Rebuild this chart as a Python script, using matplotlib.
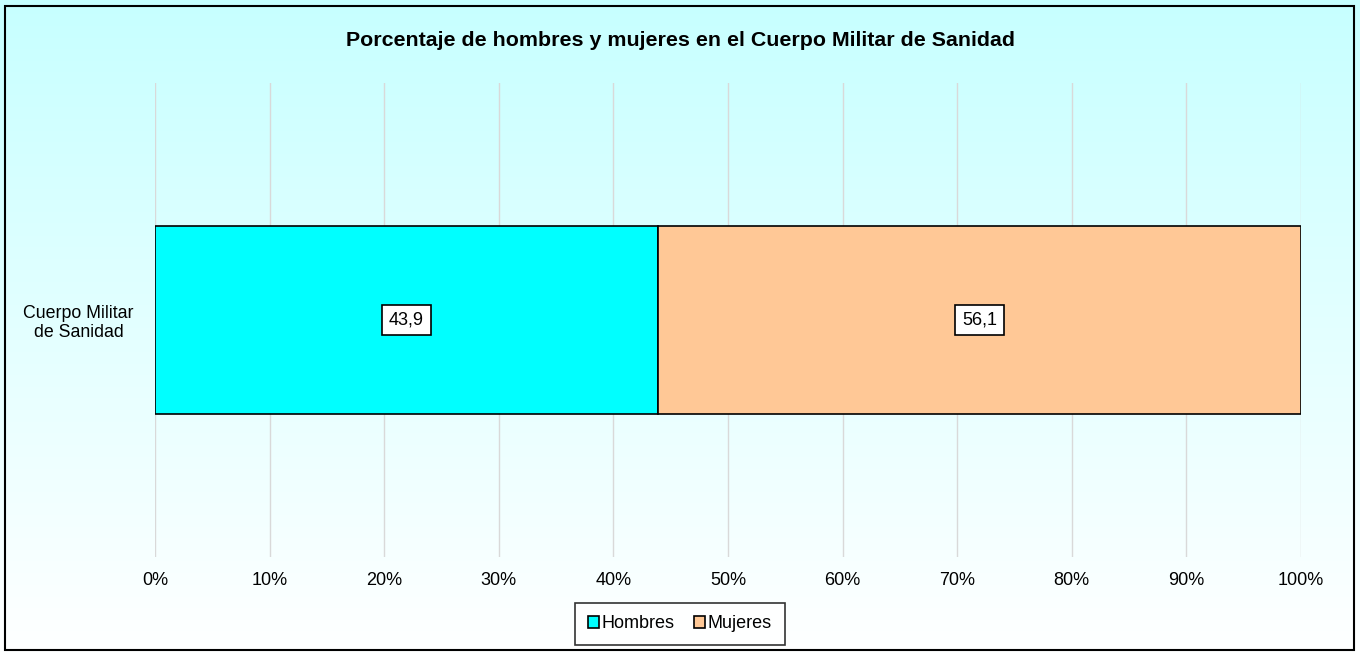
import matplotlib.pyplot as plt
import numpy as np
from matplotlib.patches import Rectangle

plt.rcParams['font.family'] = ['Liberation Sans', 'DejaVu Sans']

categories = ['Cuerpo Militar\nde Sanidad']
series_names = ['Hombres', 'Mujeres']
hombres = [43.9]
mujeres = [56.1]
colors = ['#00FFFF', '#FFC896']
xticks = [0, 10, 20, 30, 40, 50, 60, 70, 80, 90, 100]


def main():
    fig = plt.figure(figsize=(13.6, 6.56), dpi=100)

    # gradient background
    bg = fig.add_axes([0, 0, 1, 1], zorder=-10)
    grad = np.linspace(0, 1, 256).reshape(-1, 1)
    top = np.array([0.78, 1.0, 1.0])
    bottom = np.array([1.0, 1.0, 1.0])
    img = top + (bottom - top) * grad[:, :, None]
    bg.imshow(img, aspect='auto', extent=[0, 1, 0, 1], origin='upper')
    bg.set_xlim(0, 1)
    bg.set_ylim(0, 1)
    bg.axis('off')
    fig.patches.append(Rectangle((5 / 1360, 6 / 656), 1349 / 1360, 644 / 656,
                                 transform=fig.transFigure, fill=False,
                                 edgecolor='black', linewidth=1.5, zorder=10))

    ax = fig.add_axes([155 / 1360, 1 - 557 / 656, 1146 / 1360, 474 / 656])
    ax.set_facecolor('none')
    y = np.arange(len(categories))
    left = np.zeros(len(categories))
    for name, vals, c in zip(series_names, [hombres, mujeres], colors):
        bars = ax.barh(y, vals, left=left, height=0.397, color=c,
                       edgecolor='black', linewidth=1.2, label=name, zorder=3)
        for b, v in zip(bars, vals):
            ax.text(b.get_x() + b.get_width() / 2, b.get_y() + b.get_height() / 2,
                    f'{v:.1f}'.replace('.', ','), ha='center', va='center',
                    fontsize=13, zorder=5,
                    bbox=dict(boxstyle='square,pad=0.38', facecolor='white',
                              edgecolor='black', linewidth=1.2))
        left = left + np.array(vals)

    ax.set_xlim(0, 100)
    ax.set_ylim(-0.5, 0.5)
    ax.set_xticks(xticks)
    ax.set_xticklabels([f'{t}%' for t in xticks], fontsize=13)
    ax.set_yticks(y)
    ax.set_yticklabels(categories, fontsize=12.8, ha='center', linespacing=1.15)
    ax.tick_params(axis='y', length=0, pad=55)
    ax.tick_params(axis='x', length=0, pad=11)
    ax.grid(axis='x', color='#d9d9d9', linewidth=1, zorder=0)
    ax.set_axisbelow(True)
    for s in ax.spines.values():
        s.set_visible(False)

    fig.text(0.5, 1 - 40 / 656, 'Porcentaje de hombres y mujeres en el Cuerpo Militar de Sanidad',
             ha='center', va='center', fontsize=15.4, fontweight='bold')

    leg = fig.legend(loc='center', bbox_to_anchor=(680 / 1360, 1 - 624 / 656),
                     ncol=2, fontsize=13, frameon=True, fancybox=False,
                     handlelength=0.6, handleheight=0.6, handletextpad=0.15,
                     columnspacing=1.1, borderpad=0.7)
    leg.get_frame().set_edgecolor('black')
    leg.get_frame().set_linewidth(1.2)

    plt.savefig('out.png', dpi=100)


if __name__ == '__main__':
    main()
